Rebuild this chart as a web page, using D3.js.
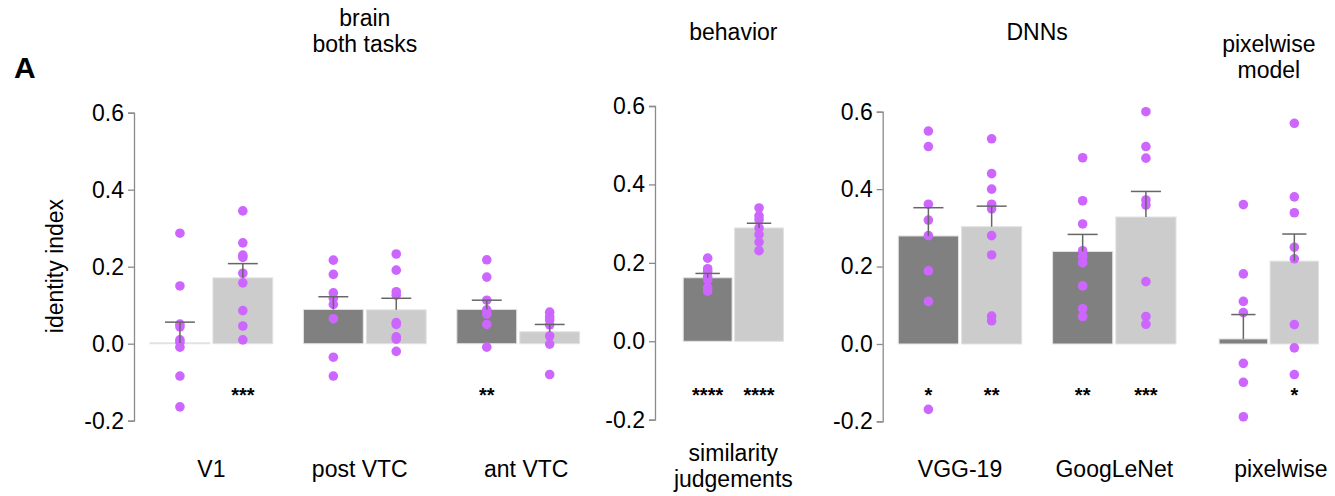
<!DOCTYPE html>
<html>
<head>
<meta charset="utf-8">
<script src="https://cdn.jsdelivr.net/npm/d3@7"></script>
<style>
  html, body { margin: 0; padding: 0; background: #fff; }
  svg { display: block; font-family: "Liberation Sans", Arial, Helvetica, sans-serif; }
</style>
</head>
<body>
<svg id="chart" width="1335" height="496"></svg>
<script>
// ---- data -------------------------------------------------------------
const groups = ["V1", "post VTC", "ant VTC", "similarity\njudgements", "VGG-19", "GoogLeNet", "pixelwise"];
const panelOfGroup = [0, 0, 0, 1, 2, 2, 3];
const panelTitles = ["brain\nboth tasks", "behavior", "DNNs", "pixelwise\nmodel"];
const conditions = ["dark", "light"];

const meanDark  = [0.002, 0.089, 0.089, 0.162, 0.279, 0.239, 0.013];
const meanLight = [0.171, 0.088, 0.031, 0.289, 0.303, 0.328, 0.214];
const semDark   = [0.054, 0.033, 0.024, 0.011, 0.073, 0.044, 0.063];
const semLight  = [0.037, 0.030, 0.019, 0.012, 0.053, 0.066, 0.070];

const pointsDark = [
  [0.287, 0.150, 0.051, 0.044, 0.010, 0.004, -0.009, -0.084, -0.164],
  [0.217, 0.180, 0.132, 0.118, 0.102, 0.065, -0.035, -0.084],
  [0.218, 0.173, 0.113, 0.088, 0.077, 0.050, -0.009],
  [0.212, 0.185, 0.178, 0.165, 0.157, 0.137, 0.128],
  [0.550, 0.510, 0.361, 0.320, 0.280, 0.189, 0.110, -0.169],
  [0.481, 0.370, 0.310, 0.241, 0.226, 0.210, 0.150, 0.091, 0.071],
  [0.360, 0.181, 0.110, 0.081, -0.050, -0.099, -0.188]
];
const pointsLight = [
  [0.345, 0.262, 0.230, 0.224, 0.183, 0.158, 0.086, 0.046, 0.010],
  [0.233, 0.191, 0.135, 0.126, 0.055, 0.050, 0.018, 0.012, -0.020],
  [0.082, 0.070, 0.062, 0.049, 0.020, -0.001, -0.080],
  [0.340, 0.320, 0.310, 0.289, 0.272, 0.253, 0.231],
  [0.530, 0.440, 0.400, 0.361, 0.349, 0.280, 0.230, 0.072, 0.060],
  [0.600, 0.510, 0.480, 0.372, 0.359, 0.161, 0.071, 0.051],
  [0.570, 0.380, 0.339, 0.250, 0.220, 0.050, -0.010, -0.079]
];

const starsDark  = ["", "", "**", "****", "*", "**", ""];
const starsLight = ["***", "", "", "****", "**", "***", "*"];

const tickValues = [-0.2, 0.0, 0.2, 0.4, 0.6];
const tickLabels = ["-0.2", "0.0", "0.2", "0.4", "0.6"];
const yLabel = "identity index";
const panelLetter = "A";

// ---- layout ------------------------------------------------------------
const panels = [
  { x0: 150,   x1: 579.6, axisX: 134,   yTop: 112.7, yBottom: 420.7, axis: true,  titleY: 26 },
  { x0: 670.7, x1: 796,   axisX: 655,   yTop: 106,   yBottom: 419.7, axis: true,  titleY: 40 },
  { x0: 898.3, x1: 1176,  axisX: 882.7, yTop: 111.7, yBottom: 421.4, axis: true,  titleY: 40 },
  { x0: 1206.7, x1: 1331, axisX: null,  yTop: 111.7, yBottom: 421.4, axis: false, titleY: 52 }
];
const labelNudge = { "post VTC": -5, "ant VTC": 8, "pixelwise": 12 };
const colors = { dark: "#808080", light: "#cccccc" };
const dotColor = "#cc66ff";
const fontSize = 23;

const svg = d3.select("#chart");

function multiline(sel, text, x, y, lineH) {
  const t = sel.append("text")
    .attr("x", x).attr("y", y)
    .attr("text-anchor", "middle")
    .attr("font-size", fontSize)
    .attr("fill", "#000");
  text.split("\n").forEach((line, i) => {
    t.append("tspan").attr("x", x).attr("dy", i === 0 ? 0 : lineH).text(line);
  });
  return t;
}

panels.forEach((p, pi) => {
  const idx = groups.map((g, i) => i).filter(i => panelOfGroup[i] === pi);
  const names = idx.map(i => groups[i]);

  const y = d3.scaleLinear().domain([-0.2, 0.6]).range([p.yBottom, p.yTop]);
  const xg = d3.scaleBand().domain(names).range([p.x0, p.x1]).paddingInner(0.2).paddingOuter(0);
  const xc = d3.scaleBand().domain(conditions).range([0, xg.bandwidth()]).paddingInner(0.049);

  const g = svg.append("g");

  if (p.axis) {
    const axis = d3.axisLeft(y)
      .tickValues(tickValues)
      .tickFormat((d, i) => tickLabels[i])
      .tickSize(6)
      .tickPadding(4);
    const ax = g.append("g").attr("transform", `translate(${p.axisX},0)`).call(axis);
    ax.select(".domain").attr("stroke", "#8a8a8a").attr("stroke-width", 1.3);
    ax.selectAll(".tick line").attr("stroke", "#8a8a8a").attr("stroke-width", 1.3);
    ax.selectAll(".tick text")
      .attr("font-size", fontSize)
      .attr("font-family", "Liberation Sans, Arial, sans-serif")
      .attr("fill", "#000");
  }

  // panel title
  const tx = (p.x0 + p.x1) / 2;
  multiline(g, panelTitles[pi], tx, p.titleY, 26);

  const rows = [];
  idx.forEach(i => {
    conditions.forEach(c => {
      rows.push({
        group: groups[i], cond: c,
        mean: c === "dark" ? meanDark[i] : meanLight[i],
        sem: c === "dark" ? semDark[i] : semLight[i],
        pts: c === "dark" ? pointsDark[i] : pointsLight[i],
        star: c === "dark" ? starsDark[i] : starsLight[i]
      });
    });
  });
  const cx = d => xg(d.group) + xc(d.cond) + xc.bandwidth() / 2;

  // bars
  g.selectAll("rect.bar").data(rows).join("rect")
    .attr("class", "bar")
    .attr("x", d => xg(d.group) + xc(d.cond))
    .attr("width", xc.bandwidth())
    .attr("y", d => y(Math.max(0, d.mean)))
    .attr("height", d => Math.abs(y(d.mean) - y(0)))
    .attr("fill", d => colors[d.cond])
    .attr("stroke", "#e2e2e2")
    .attr("stroke-width", 1);

  // individual points
  rows.forEach(r => {
    g.selectAll(null).data(r.pts).join("circle")
      .attr("cx", cx(r))
      .attr("cy", v => y(v))
      .attr("r", 4.8)
      .attr("fill", dotColor);
  });

  // error bars (upper half only)
  const eb = g.selectAll("g.err").data(rows).join("g").attr("class", "err")
    .attr("stroke", "#666").attr("stroke-width", 1.5);
  eb.append("line")
    .attr("x1", cx).attr("x2", cx)
    .attr("y1", d => y(d.mean)).attr("y2", d => y(d.mean + d.sem));
  eb.append("line")
    .attr("x1", d => cx(d) - xc.bandwidth() / 4).attr("x2", d => cx(d) + xc.bandwidth() / 4)
    .attr("y1", d => y(d.mean + d.sem)).attr("y2", d => y(d.mean + d.sem));

  // significance stars
  g.selectAll("text.star").data(rows.filter(r => r.star)).join("text")
    .attr("class", "star")
    .attr("x", cx)
    .attr("y", 402)
    .attr("text-anchor", "middle")
    .attr("font-size", 20)
    .attr("font-weight", "bold")
    .attr("fill", "#000")
    .text(d => d.star);

  // category labels
  names.forEach(n => {
    const lx = xg(n) + xg.bandwidth() / 2 + (labelNudge[n] || 0);
    const lines = n.split("\n").length;
    multiline(g, n, lx, lines > 1 ? 461 : 477, 26);
  });
});

// y-axis title and panel letter
svg.append("text")
  .attr("transform", `translate(63,266) rotate(-90)`)
  .attr("text-anchor", "middle")
  .attr("font-size", fontSize)
  .attr("fill", "#000")
  .text(yLabel);

svg.append("text")
  .attr("x", 14).attr("y", 78)
  .attr("font-size", 30)
  .attr("font-weight", "bold")
  .attr("fill", "#000")
  .text(panelLetter);
</script>
</body>
</html>
